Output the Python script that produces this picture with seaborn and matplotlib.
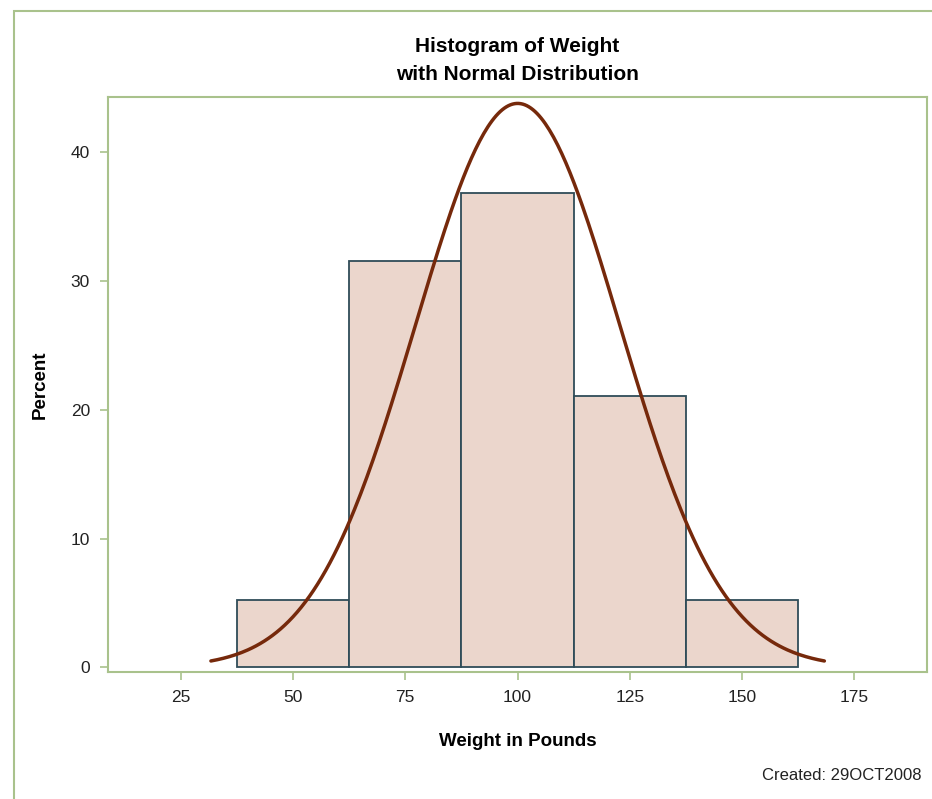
import numpy as np
import pandas as pd
import matplotlib
matplotlib.use("Agg")
import matplotlib.pyplot as plt
from matplotlib.patches import Rectangle
import seaborn as sns

# Histogram data: bin midpoints (pounds) and percent of students per bin
bin_midpoints = [50, 75, 100, 125, 150]
bin_percents = [5.26, 31.58, 36.84, 21.05, 5.26]
bin_width = 25

# Fitted normal parameters
weight_mean = 100.03
weight_std = 22.77

x_ticks = [25, 50, 75, 100, 125, 150, 175]
y_ticks = [0, 10, 20, 30, 40]

FRAME = "#A9C28C"
BAR_FILL = "#EBD6CC"
BAR_EDGE = "#2F4C58"
CURVE = "#76290B"
TEXT = "#222222"

sns.set_style("white")
plt.rcParams["font.family"] = ["Liberation Sans", "DejaVu Sans"]

fig = plt.figure(figsize=(9.32, 7.99), dpi=100)
ax = fig.add_axes([108 / 932, 1 - 672 / 799, (927 - 108) / 932, (672 - 97) / 799])

hist_df = pd.DataFrame({"Weight": bin_midpoints, "Percent": bin_percents})
edges = [bin_midpoints[0] - bin_width / 2 + i * bin_width for i in range(len(bin_midpoints) + 1)]
sns.histplot(data=hist_df, x="Weight", weights="Percent", bins=edges, stat="count",
             color=BAR_FILL, edgecolor=BAR_EDGE, linewidth=1.3, alpha=1, ax=ax)

# Normal density scaled to percent per bin
xs = np.linspace(weight_mean - 3 * weight_std, weight_mean + 3 * weight_std, 300)
ys = 100 * bin_width * np.exp(-0.5 * ((xs - weight_mean) / weight_std) ** 2) / (weight_std * np.sqrt(2 * np.pi))
sns.lineplot(x=xs, y=ys, color=CURVE, linewidth=2.5, ax=ax, solid_capstyle="round")

ax.set_xlim(8.8, 191.2)
ax.set_ylim(-0.37, 44.3)
ax.set_xticks(x_ticks)
ax.set_yticks(y_ticks)
ax.tick_params(axis="both", direction="out", length=6, width=1.2, color=FRAME,
               labelcolor=TEXT, labelsize=12.5, pad=7, bottom=True, left=True)
for s in ax.spines.values():
    s.set_color(FRAME)
    s.set_linewidth(1.5)

ax.set_xlabel("Weight in Pounds", fontsize=13.5, fontweight="bold", color="black", labelpad=20)
ax.set_ylabel("Percent", fontsize=13.5, fontweight="bold", color="black")
ax.yaxis.set_label_coords(-0.072, 0.5)

fig.text(517.5 / 932, 1 - 60 / 799, "Histogram of Weight\nwith Normal Distribution",
         ha="center", va="center", fontsize=15, fontweight="bold", color="black", linespacing=1.6)
fig.text(922 / 932, 1 - 775 / 799, "Created: 29OCT2008", ha="right", va="center",
         fontsize=12, color=TEXT)

# Outer page border (top and left edges visible)
fig.patches.append(Rectangle((13.5 / 932, -0.05), 1.0, 1 - 10.7 / 799 + 0.05,
                             transform=fig.transFigure, fill=False,
                             edgecolor=FRAME, linewidth=1.5))

fig.savefig("out.png", dpi=100)
